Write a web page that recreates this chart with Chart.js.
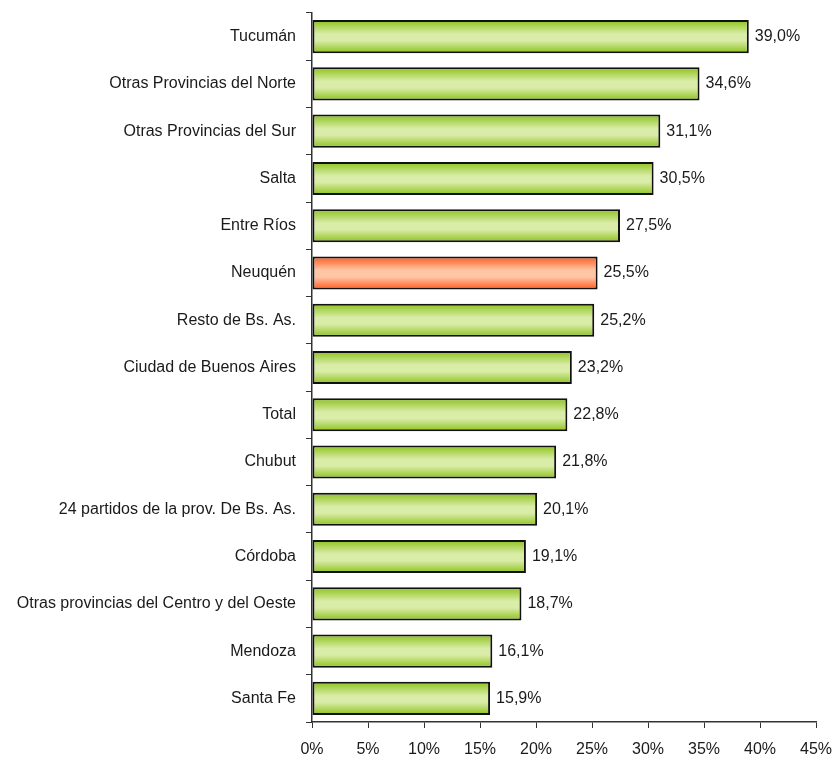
<!DOCTYPE html>
<html>
<head>
<meta charset="utf-8">
<script src="https://cdn.jsdelivr.net/npm/chart.js@4/dist/chart.umd.min.js"></script>
<style>
    html, body { margin: 0; padding: 0; background: #ffffff; }
    #wrap { width: 832px; height: 762px; }
</style>
</head>
<body>
<div id="wrap"><canvas id="barChart"></canvas></div>
<script>
// ==========================
// DATA
// ==========================

const regiones = [
    "Tucumán",
    "Otras Provincias del Norte",
    "Otras Provincias del Sur",
    "Salta",
    "Entre Ríos",
    "Neuquén",
    "Resto de Bs. As.",
    "Ciudad de Buenos Aires",
    "Total",
    "Chubut",
    "24 partidos de la prov. De Bs. As.",
    "Córdoba",
    "Otras provincias del Centro y del Oeste",
    "Mendoza",
    "Santa Fe"
];

const porcentajes = [
    39.0, 34.6, 31.1, 30.5, 27.5,
    25.5, 25.2, 23.2, 22.8, 21.8,
    20.1, 19.1, 18.7, 16.1, 15.9
];

const destacada = "Neuquén";

const ticksX = [0, 5, 10, 15, 20, 25, 30, 35, 40, 45];

// ==========================
// GRADIENT PER BAR
// ==========================

const BAR_PCT = 0.7;
const FUENTE = "'Liberation Sans', Arial, sans-serif";

function barFill(ctx) {
    const chart = ctx.chart;
    const naranja = regiones[ctx.dataIndex] === destacada;
    const yScale = chart.scales.y;
    if (!chart.chartArea || !yScale) {
        return naranja ? "#ffa77a" : "#c4e07a";
    }
    const centro = yScale.getPixelForValue(ctx.dataIndex);
    const banda = (yScale.bottom - yScale.top) / regiones.length;
    const mitad = banda * BAR_PCT / 2;
    const g = chart.ctx.createLinearGradient(
        0, centro - mitad, 0, centro + mitad
    );
    if (naranja) {
        g.addColorStop(0, "#ff5a1e");
        g.addColorStop(0.42, "#ffc6a6");
        g.addColorStop(0.62, "#ffc6a6");
        g.addColorStop(1, "#ff5a1e");
    } else {
        g.addColorStop(0, "#8cc21a");
        g.addColorStop(0.42, "#d9eca8");
        g.addColorStop(0.62, "#d9eca8");
        g.addColorStop(1, "#8cc21a");
    }
    return g;
}

// ==========================
// VALUE LABELS
// ==========================

const etiquetas = {
    id: "etiquetas",
    afterDatasetsDraw(chart) {
        const c = chart.ctx;
        const meta = chart.getDatasetMeta(0);
        c.save();
        c.font = "16px " + FUENTE;
        c.fillStyle = "#1a1a1a";
        c.textAlign = "left";
        c.textBaseline = "middle";
        meta.data.forEach((bar, i) => {
            const txt = porcentajes[i].toFixed(1).replace(".", ",") + "%";
            c.fillText(txt, bar.x + 6, bar.y);
        });
        c.restore();
    }
};

// ==========================
// CHART
// ==========================

const canvas = document.getElementById("barChart");

new Chart(canvas, {
    type: "bar",
    data: {
        labels: regiones,
        datasets: [{
            data: porcentajes,
            backgroundColor: barFill,
            borderColor: "#111111",
            borderWidth: 2,
            borderSkipped: false,
            barPercentage: BAR_PCT,
            categoryPercentage: 1
        }]
    },
    options: {
        indexAxis: "y",
        responsive: true,
        maintainAspectRatio: false,
        animation: false,
        layout: {
            padding: { left: 0, right: 16, top: 13, bottom: 0 }
        },
        plugins: {
            legend: { display: false },
            tooltip: { enabled: false }
        },
        scales: {
            x: {
                min: 0,
                max: 45,
                afterBuildTicks(scale) {
                    scale.ticks = ticksX.map(v => ({ value: v }));
                },
                afterFit(scale) {
                    scale.height = 40;
                    scale.paddingLeft = 0;
                    scale.paddingRight = 0;
                },
                grid: {
                    display: true,
                    drawOnChartArea: false,
                    drawTicks: true,
                    tickLength: 6,
                    color: "#333333",
                    lineWidth: 1
                },
                border: { display: true, color: "#333333", width: 1.5 },
                ticks: {
                    padding: 12,
                    maxRotation: 0,
                    color: "#1a1a1a",
                    font: { family: FUENTE, size: 16 },
                    callback: v => v + "%"
                }
            },
            y: {
                afterFit(scale) {
                    scale.width = 312;
                    scale.paddingTop = 0;
                    scale.paddingBottom = 0;
                },
                grid: {
                    display: true,
                    offset: true,
                    drawOnChartArea: false,
                    drawTicks: true,
                    tickLength: 6,
                    color: "#333333",
                    lineWidth: 1
                },
                border: { display: true, color: "#333333", width: 1.5 },
                ticks: {
                    padding: 10,
                    color: "#1a1a1a",
                    autoSkip: false,
                    font: { family: FUENTE, size: 16 }
                }
            }
        }
    },
    plugins: [etiquetas]
});
</script>
</body>
</html>
